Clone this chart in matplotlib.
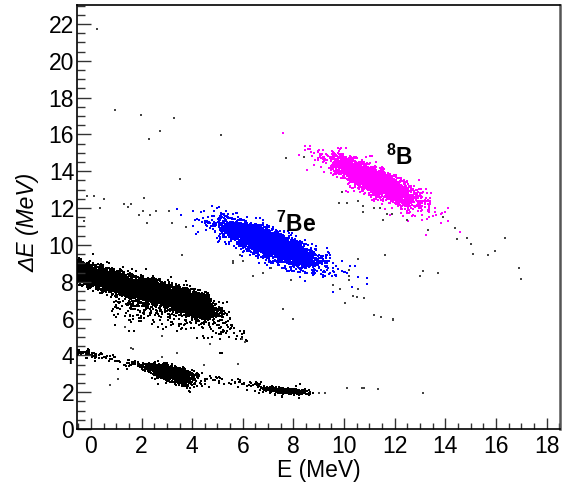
import numpy as np
import matplotlib
matplotlib.use('Agg')
import matplotlib.pyplot as plt
from matplotlib.ticker import MultipleLocator

plt.rcParams['font.family'] = ['Liberation Sans', 'DejaVu Sans']
plt.rcParams['mathtext.fontset'] = 'custom'
plt.rcParams['mathtext.rm'] = 'Liberation Sans'
plt.rcParams['mathtext.bf'] = 'Liberation Sans:bold'
plt.rcParams['mathtext.it'] = 'Liberation Sans:italic'

# ---- cluster parameters ----
# elongated gaussian clusters: centre (E, dE), spread along E, spread in dE, tilt, count
blob_color = ['black', 'black', 'black', 'black', 'black',
              '#0000ff', '#0000ff', '#ff00ff', '#ff00ff']
blob_E = [3.8, 3.15, 3.35, 7.75, 7.6, 7.0, 7.4, 11.2, 11.4]
blob_dE = [6.85, 3.12, 2.7, 2.06, 2.1, 10.1, 9.75, 13.5, 13.25]
blob_sE = [0.55, 0.4, 0.42, 0.3, 0.55, 0.85, 1.15, 0.8, 1.05]
blob_sdE = [0.24, 0.14, 0.17, 0.06, 0.12, 0.34, 0.45, 0.33, 0.5]
blob_slope = [-0.4, -0.25, -0.3, -0.1, -0.1, -0.5, -0.5, -0.62, -0.62]
blob_n = [1600, 1600, 250, 700, 80, 4000, 450, 2800, 350]

# bands: E range, dE at both ends, width in dE, count
band_E0 = [-0.7, 2.0, 0.8, 4.7, -0.7, 0.3, 4.2]
band_E1 = [2.0, 4.7, 5.5, 6.2, 0.3, 2.5, 6.8]
band_dE0 = [8.6, 7.6, 6.9, 6.3, 4.2, 4.0, 2.9]
band_dE1 = [7.6, 6.6, 5.8, 4.8, 4.0, 3.3, 2.35]
band_sd = [0.3, 0.3, 0.55, 0.3, 0.12, 0.15, 0.12]
band_n = [3000, 3500, 350, 40, 60, 60, 50]

# isolated events
sparse_E = [0.25, 0.96, 1.98, 3.3, 2.73, 2.3, 5.13, 7.7, 3.5, -0.15, 0.13, 0.5, 0.35,
            1.3, 1.6, 2.1, 1.45, 2.05, 2.57, 3.1, 1.9, 2.35, 2.2, 3.2, 3.75, -0.27,
            8.4, 9.9, 9.8, 10.1, 10.55, 10.75, 10.75, 11.2, 11.4, 11.7, 11.9, 11.55,
            12.5, 13.3, 14.4, 14.85, 14.45, 16.35, 13.9,
            15.0, 15.1, 15.7, 15.95, 11.6, 10.55, 10.2, 10.2, 13.1, 13.0, 13.7, 16.9,
            17.0, 10.55, 10.35, 10.5, 10.8, 10.05, 9.85, 9.55, 8.0, 11.2, 11.45,
            11.95, 11.95, 9.0, 9.25, 10.1, 10.7, 10.8, 11.35, 13.1,
            5.6, 6.0, 6.4, 6.8, 7.1, 7.9, 10.2, 10.2,
            3.6, 5.87, 5.6, 5.97, 6.1, 2.8, 1.35, 1.65, 1.05, 0.77, 5.8, 2.8, 7.6,
            4.7, 1.6, 3.4, 4.45]
sparse_dE = [21.7, 17.3, 17.05, 16.9, 16.2, 15.75, 15.95, 14.7, 13.6, 12.65, 12.65, 12.5,
             12.0, 12.2, 12.2, 12.55, 12.05, 11.85, 11.85, 11.85, 11.6, 11.6, 11.2, 11.2,
             10.95, 11.3,
             14.8, 12.9, 12.3, 12.3, 12.4, 12.1, 11.8, 12.0, 12.0, 11.7, 11.7, 11.35,
             11.35, 10.8, 10.9, 10.4, 10.3, 10.4, 11.5,
             10.05, 9.5, 9.45, 9.67, 9.45, 9.25, 8.65, 8.3, 8.6, 8.3, 8.45, 8.75,
             8.15, 7.6, 7.25, 7.15, 7.1, 6.85, 7.6, 7.8, 5.95, 6.2, 6.1,
             6.0, 5.9, 1.95, 1.95, 2.25, 2.2, 2.2, 2.15, 1.95,
             9.0, 9.1, 8.3, 8.5, 8.75, 8.1, 8.65, 8.1,
             9.45, 9.45, 9.1, 4.9, 4.75, 5.05, 5.55, 4.35, 2.7, 2.4, 3.55, 3.9, 6.5,
             4.6, 4.4, 4.15, 3.5]

x_ticks = [0, 2, 4, 6, 8, 10, 12, 14, 16, 18]
y_ticks = [0, 2, 4, 6, 8, 10, 12, 14, 16, 18, 20, 22]

rng = np.random.default_rng(7)

fig = plt.figure(figsize=(5.76, 4.84), dpi=100)
ax = fig.add_axes([77 / 576, 1 - 429 / 484, 483 / 576, 424 / 484])


def draw(E, dE, color, size=1.0):
    ax.scatter(E, dE, s=size, marker='s', c=color, linewidths=0)


# bands (black)
for e0, e1, d0, d1, sd, n in zip(band_E0, band_E1, band_dE0, band_dE1, band_sd, band_n):
    e = rng.uniform(e0, e1, n)
    d = d0 + (d1 - d0) * (e - e0) / (e1 - e0) + rng.normal(0, sd, n)
    draw(e, d, 'black')

# gaussian clusters
for col, e0, d0, se, sd, sl, n in zip(blob_color, blob_E, blob_dE, blob_sE, blob_sdE,
                                      blob_slope, blob_n):
    a = rng.normal(0, se, n)
    p = rng.normal(0, sd, n)
    draw(e0 + a, d0 + sl * a + p, col)

draw(np.array(sparse_E), np.array(sparse_dE), '#444444', 0.8)

ax.set_xlim(-0.55, 18.53)
ax.set_ylim(0, 23.03)
ax.set_xticks(x_ticks)
ax.set_yticks(y_ticks)
ax.xaxis.set_minor_locator(MultipleLocator(0.5))
ax.yaxis.set_minor_locator(MultipleLocator(0.5))
ax.tick_params(axis='both', which='both', direction='in', top=False, right=False,
               labelsize=16.5, color='#333333')
ax.tick_params(axis='y', which='major', length=10, width=1, pad=2)
ax.tick_params(axis='y', which='minor', length=5.5, width=1)
ax.tick_params(axis='x', which='major', length=8, width=1, pad=4)
ax.tick_params(axis='x', which='minor', length=4, width=1)

for s in ['left', 'bottom', 'top']:
    ax.spines[s].set_linewidth(1.2)
    ax.spines[s].set_color('black')
ax.spines['right'].set_linewidth(1.8)
ax.spines['right'].set_color('#555555')

ax.set_xlabel('E (MeV)', fontsize=16.5)
ax.xaxis.set_label_coords(0.5, -0.097)
ax.xaxis.label.set_va('center')
ax.set_ylabel('ΔE (MeV)', fontsize=16.5, style='italic')
ax.yaxis.set_label_coords(-0.101, 0.488)
ax.yaxis.label.set_va('center')

ax.text(8.1, 10.7, r'$^{\mathbf{7}}\mathbf{Be}$', fontsize=16.5, ha='center', va='baseline')
ax.text(12.2, 14.35, r'$^{\mathbf{8}}\mathbf{B}$', fontsize=16.5, ha='center', va='baseline')

fig.savefig('out.png', dpi=100)
